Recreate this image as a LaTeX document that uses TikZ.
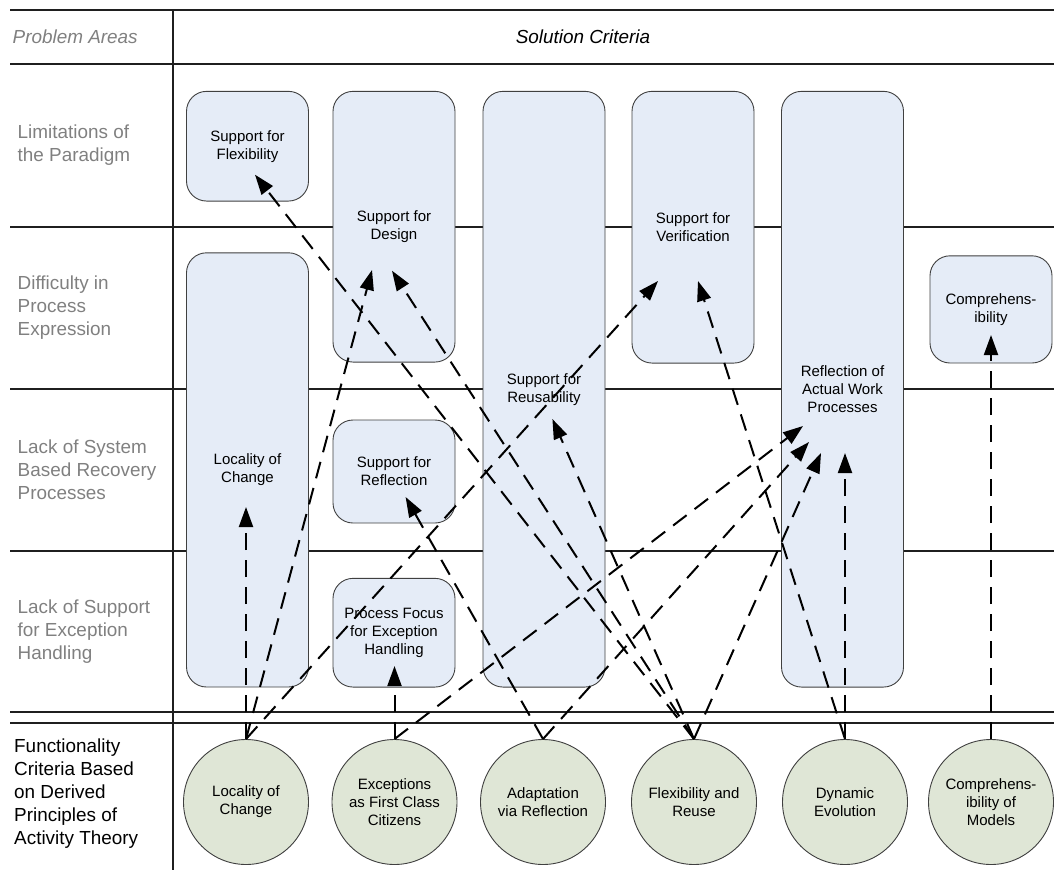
\documentclass[tikz,border=0pt]{standalone}
\usepackage{fontspec}
\setmainfont{Liberation Sans}
\usetikzlibrary{arrows.meta}
\definecolor{boxfill}{HTML}{E5ECF7}
\definecolor{circfill}{HTML}{DFE6D6}
\definecolor{areagray}{HTML}{808080}
\begin{document}
\begin{tikzpicture}[x=1pt,y=-1pt,
  rule/.style={line width=2pt, draw=black!88},
  area/.style={anchor=west, inner sep=0pt, align=left, text=areagray,
    font={\fontsize{18.9}{23}\selectfont}},
  basis/.style={anchor=west, inner sep=0pt, align=left, text=black,
    font={\fontsize{18.9}{23}\selectfont}},
  crit/.style={draw=black!75, line width=0.9pt, fill=boxfill, rounded corners=20pt,
    minimum width=122pt, inner sep=2pt, align=center,
    font={\fontsize{15}{18}\selectfont}},
  principle/.style={circle, draw=black!75, line width=0.9pt, fill=circfill,
    minimum size=125pt, inner sep=0pt, align=center,
    font={\fontsize{15}{18}\selectfont}},
  arr/.style={draw=black, line width=2pt, dash pattern=on 17pt off 10pt,
    -{Triangle[length=20pt,width=14pt]}}
]
\useasboundingbox (0,0) rectangle (1054,870);

% table rules
\draw[rule] (10,10) -- (1054,10);
\draw[rule] (10,63.5) -- (1054,63.5);
\draw[rule] (10,227) -- (1054,227);
\draw[rule] (10,389) -- (1054,389);
\draw[rule] (10,550.6) -- (1054,550.6);
\draw[rule] (10,712) -- (1054,712);
\draw[rule] (10,722.5) -- (1054,722.5);
\draw[rule] (173,10) -- (173,870);

% headings
\node[area, font={\fontsize{18.9}{23}\selectfont\itshape}] (hprob) at (12.5,36.75) {Problem Areas};
\node[inner sep=0pt, font={\fontsize{18.9}{23}\selectfont\itshape}] (hsol) at (583,36.75) {Solution Criteria};

% problem areas
\node[area] (p1) at (17.5,145) {Limitations of\\the Paradigm};
\node[area] (p2) at (17.5,308) {Difficulty in\\Process\\Expression};
\node[area] (p3) at (17.5,470) {Lack of System\\Based Recovery\\Processes};
\node[area] (p4) at (17.5,631.5) {Lack of Support\\for Exception\\Handling};
\node[basis] (p5) at (14,793.5) {Functionality\\Criteria Based\\on Derived\\Principles of\\Activity Theory};

% solution criteria
\node[crit, minimum height=109.7pt] (flex) at (247.5,146.2) {Support for\\Flexibility};
\node[crit, minimum height=434.2pt] (locbox) at (247.5,469.9) {Locality of\\Change};
\node[crit, minimum height=270.7pt] (design) at (394,226.7) {Support for\\Design};
\node[crit, minimum height=103pt] (reflect) at (394,471.5) {Support for\\Reflection};
\node[crit, minimum height=108.7pt] (focus) at (394,632.7) {Process Focus\\for Exception\\Handling};
\node[crit, minimum height=595.7pt] (reuse) at (544,389.2) {Support for\\Reusability};
\node[crit, minimum height=271.7pt] (verif) at (693,227.2) {Support for\\Verification};
\node[crit, minimum height=595.7pt] (actual) at (842.5,389.2) {Reflection of\\Actual Work\\Processes};
\node[crit, minimum height=107.2pt] (compr) at (991,309.4) {Comprehens-\\ibility};

% functionality criteria
\node[principle] (c1) at (246,802) {Locality of\\Change};
\node[principle] (c2) at (394.5,802) {Exceptions\\as First Class\\Citizens};
\node[principle] (c3) at (543,802) {Adaptation\\via Reflection};
\node[principle] (c4) at (694,802) {Flexibility and\\Reuse};
\node[principle] (c5) at (845,802) {Dynamic\\Evolution};
\node[principle] (c6) at (991,802) {Comprehens-\\ibility of\\Models};

% arrow targets inside the criteria boxes
\coordinate (tLoc) at (246,507);
\coordinate (tDesA) at (372,270);
\coordinate (tDesB) at (392,270.7);
\coordinate (tVerA) at (658,281);
\coordinate (tVerB) at (698,281);
\coordinate (tFocus) at (394.5,666);
\coordinate (tActA) at (803,426);
\coordinate (tActB) at (809,442);
\coordinate (tActC) at (821,453);
\coordinate (tActD) at (845,453);
\coordinate (tRefl) at (405.6,497);
\coordinate (tFlex) at (255,174.7);
\coordinate (tReuse) at (552.4,419);
\coordinate (tCompr) at (991,335);

% dependencies
\draw[arr] (c1.north) -- (tLoc);
\draw[arr] (c1.north) -- (tDesA);
\draw[arr] (c1.north) -- (tVerA);
\draw[arr] (c2.north) -- (tFocus);
\draw[arr] (c2.north) -- (tActA);
\draw[arr] (c3.north) -- (tRefl);
\draw[arr] (c3.north) -- (tActB);
\draw[arr] (c4.north) -- (tFlex);
\draw[arr] (c4.north) -- (tDesB);
\draw[arr] (c4.north) -- (tReuse);
\draw[arr] (c4.north) -- (tActC);
\draw[arr] (c5.north) -- (tVerB);
\draw[arr] (c5.north) -- (tActD);
\draw[arr] (c6.north) -- (tCompr);
\end{tikzpicture}
\end{document}
